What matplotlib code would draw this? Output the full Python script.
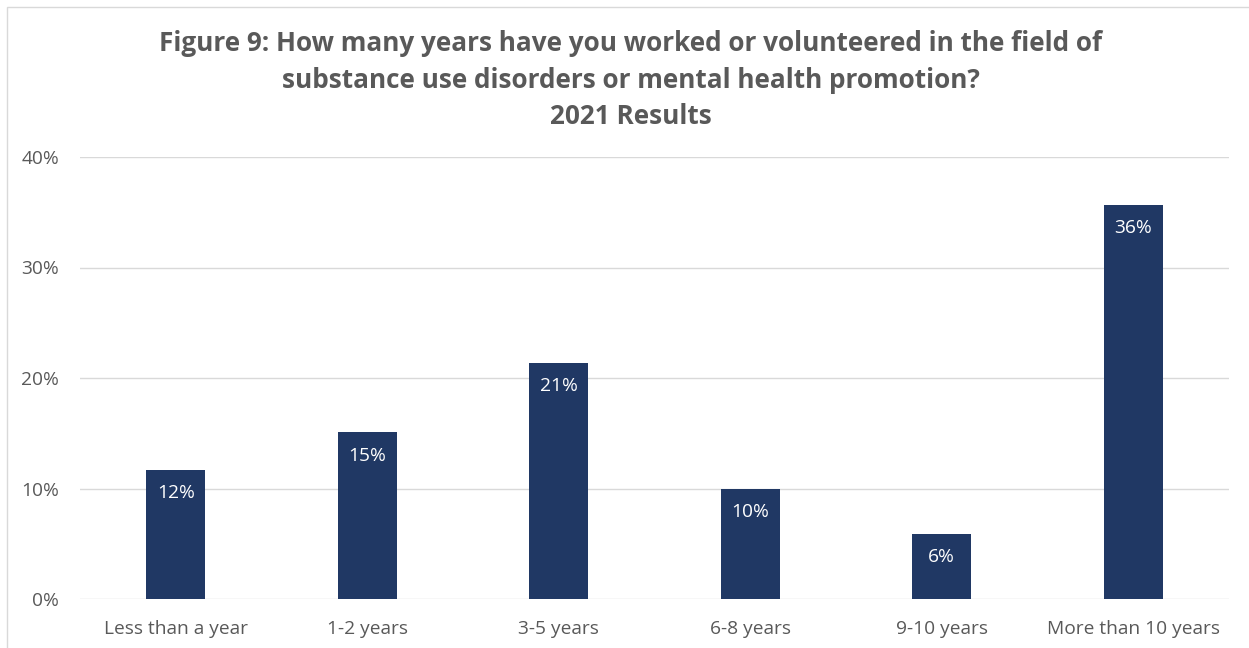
import matplotlib.pyplot as plt
from matplotlib.patches import Rectangle

# survey answers, share of respondents (%)
categories = ["Less than a year", "1-2 years", "3-5 years", "6-8 years", "9-10 years", "More than 10 years"]
shares = [11.7, 15.1, 21.4, 10.0, 5.9, 35.7]
yticks = [0, 10, 20, 30, 40]

plt.rcParams['font.family'] = ['Open Sans', 'DejaVu Sans']
grey = "#595959"
navy = "#203864"

fig = plt.figure(figsize=(12.49, 6.48), dpi=100)
ax = fig.add_axes([80 / 1249, 1 - 599 / 648, 1149 / 1249, 442 / 648])

x = range(len(categories))
bars = ax.bar(x, shares, width=0.31, color=navy, zorder=3)

for b, v in zip(bars, shares):
    ax.annotate("{:.0f}%".format(v), (b.get_x() + b.get_width() / 2, v),
                xytext=(0, -17), textcoords="offset points",
                ha="center", va="center", color="white", fontsize=13.8, zorder=4)

ax.set_xlim(-0.5, len(categories) - 0.5)
ax.set_ylim(0, 40)
ax.set_yticks(yticks)
ax.set_yticklabels(["{}%".format(t) for t in yticks])
ax.set_xticks(list(x))
ax.set_xticklabels(categories)
ax.tick_params(axis="both", length=0, colors=grey, labelsize=13.8)
ax.tick_params(axis="x", pad=15)
ax.tick_params(axis="y", pad=15)
ax.grid(axis="y", color="#D9D9D9", linewidth=1, zorder=0)
for s in ax.spines.values():
    s.set_visible(False)

fig.text(631 / 1249, 1 - 80 / 648,
         "Figure 9: How many years have you worked or volunteered in the field of\n"
         "substance use disorders or mental health promotion?\n"
         "2021 Results",
         ha="center", va="center", fontsize=18.8, fontweight="bold", color=grey,
         linespacing=1.45)

# light frame around the chart area
fig.patches.append(Rectangle((7 / 1249, -0.1), 1.2, 1.1 - 7 / 648, transform=fig.transFigure,
                             fill=False, edgecolor="#D9D9D9", linewidth=1.0))

fig.savefig("out.png", dpi=100)
